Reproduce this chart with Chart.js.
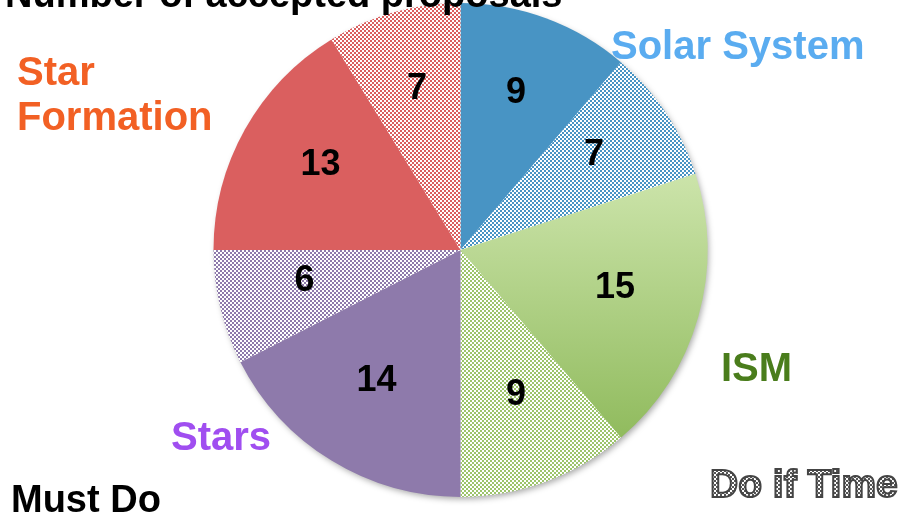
<!DOCTYPE html>
<html>
<head>
<meta charset="utf-8">
<script src="https://cdn.jsdelivr.net/npm/chart.js@4.4.1/dist/chart.umd.min.js"></script>
<style>
  html, body { margin: 0; padding: 0; background: #fff; }
  #pie { display: block; }
</style>
</head>
<body>
<canvas id="pie" width="898" height="516"></canvas>
<script>
// slices clockwise from 12 o'clock: solid = "Must Do", hatched = "Do if Time"
const slices = ['Solar System', 'Solar System (if time)', 'ISM', 'ISM (if time)',
                'Stars', 'Stars (if time)', 'Star Formation', 'Star Formation (if time)'];
const proposals = [9, 7, 15, 9, 14, 6, 13, 7];
const hatched = [false, true, false, true, false, true, false, true];
const baseColors = ['#4894c4', '#4894c4', '#a8d07c', '#9cc46a',
                    '#8e7aab', '#8e7aab', '#da5f5f', '#da5f5f'];

function dotted(color) {
  const c = document.createElement('canvas');
  c.width = 4; c.height = 4;
  const g = c.getContext('2d');
  g.fillStyle = color;
  g.fillRect(0, 0, 4, 4);
  g.fillStyle = '#ffffff';
  g.fillRect(0, 0, 2, 2);
  g.fillRect(2, 2, 2, 2);
  return g.createPattern(c, 'repeat');
}

function sliceFill(ctx) {
  const i = ctx.dataIndex;
  if (hatched[i]) return dotted(baseColors[i]);
  if (i === 2) {
    const area = ctx.chart.chartArea;
    if (!area) return baseColors[i];
    const grad = ctx.chart.ctx.createLinearGradient(0, area.top + 100, 0, area.bottom - 40);
    grad.addColorStop(0, '#dcefbf');
    grad.addColorStop(1, '#8cb858');
    return grad;
  }
  return baseColors[i];
}

// soft shadow under the whole pie
const pieShadow = {
  id: 'pieShadow',
  beforeDatasetsDraw(chart) {
    const arc = chart.getDatasetMeta(0).data[0];
    if (!arc) return;
    const c = chart.ctx;
    c.save();
    c.shadowColor = 'rgba(0,0,0,0.35)';
    c.shadowBlur = 6;
    c.shadowOffsetX = 2;
    c.shadowOffsetY = 3;
    c.fillStyle = '#ffffff';
    c.beginPath();
    c.arc(arc.x, arc.y, arc.outerRadius - 1, 0, Math.PI * 2);
    c.fill();
    c.restore();
  }
};

// numbers inside slices
const sliceValues = {
  id: 'sliceValues',
  afterDatasetsDraw(chart) {
    const c = chart.ctx;
    c.save();
    c.font = 'bold 36px "Liberation Sans", Arial, sans-serif';
    c.fillStyle = '#000';
    c.textAlign = 'center';
    c.textBaseline = 'middle';
    chart.getDatasetMeta(0).data.forEach((arc, i) => {
      const mid = (arc.startAngle + arc.endAngle) / 2;
      const r = arc.outerRadius * 0.65;
      c.fillText(String(proposals[i]), arc.x + Math.cos(mid) * r, arc.y + Math.sin(mid) * r - 6);
    });
    c.restore();
  }
};

// category names, title and the two legend words
const captions = {
  id: 'captions',
  afterDraw(chart) {
    const c = chart.ctx;
    c.save();
    c.textAlign = 'left';
    c.textBaseline = 'alphabetic';
    c.font = 'bold 38px "Liberation Sans", Arial, sans-serif';
    c.fillStyle = '#000';
    c.fillText('Number of accepted proposals', 5, 7);

    c.font = 'bold 40px "Liberation Sans", Arial, sans-serif';
    c.fillStyle = '#5aacf0';
    c.fillText('Solar System', 611, 59);
    c.fillStyle = '#4a7d1c';
    c.fillText('ISM', 721, 381);
    c.fillStyle = '#a04ef0';
    c.fillText('Stars', 171, 450);
    c.fillStyle = '#f26024';
    c.fillText('Star', 17, 85);
    c.fillText('Formation', 17, 130);

    c.font = 'bold 38px "Liberation Sans", Arial, sans-serif';
    c.fillStyle = '#000';
    c.fillText('Must Do', 11, 512);

    c.font = 'bold 39px "Liberation Sans", Arial, sans-serif';
    c.fillStyle = dotted('#555555');
    c.fillText('Do if Time', 710, 497);
    c.lineWidth = 2;
    c.strokeStyle = '#444';
    c.strokeText('Do if Time', 710, 497);
    c.restore();
  }
};

new Chart(document.getElementById('pie'), {
  type: 'pie',
  data: {
    labels: slices,
    datasets: [{
      data: proposals,
      backgroundColor: sliceFill,
      borderWidth: 0
    }]
  },
  options: {
    responsive: false,
    animation: false,
    layout: { padding: { left: 213, right: 190, top: 3, bottom: 19 } },
    plugins: {
      legend: { display: false },
      tooltip: { enabled: false }
    }
  },
  plugins: [pieShadow, sliceValues, captions]
});
</script>
</body>
</html>
